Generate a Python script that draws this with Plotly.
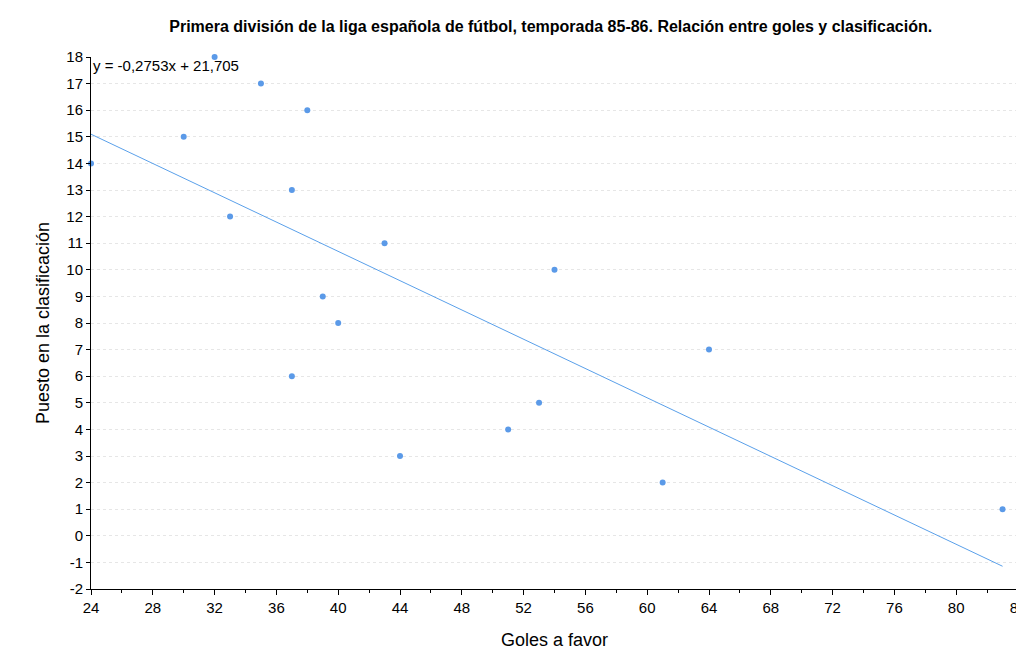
import plotly.graph_objects as go

# goles a favor y puesto en la clasificación
goles = [24, 30, 32, 33, 35, 37, 37, 38, 39, 40, 43, 44, 51, 53, 54, 61, 64, 83]
puesto = [14, 15, 18, 12, 17, 13, 6, 16, 9, 8, 11, 3, 4, 5, 10, 2, 7, 1]
y_ticks = list(range(-2, 19))

# regresión lineal
slope = -0.2753
intercept = 21.705
x_line = [min(goles), max(goles)]
y_line = [slope * x + intercept for x in x_line]

fig = go.Figure()
fig.add_trace(go.Scatter(x=x_line, y=y_line, mode="lines",
                         line=dict(color="#5aa0ea", width=1), hoverinfo="skip"))
fig.add_trace(go.Scatter(x=goles, y=puesto, mode="markers", cliponaxis=False,
                         marker=dict(color="#5b9ae8", size=6)))

fig.add_annotation(x=0, y=1, xref="paper", yref="paper", xanchor="left", yanchor="top",
                   text="y = -0,2753x + 21,705", showarrow=False,
                   font=dict(size=15, color="black"), yshift=2)

fig.update_layout(
    width=1024, height=651,
    margin=dict(l=83, r=14, t=49, b=70),
    plot_bgcolor="white", paper_bgcolor="white",
    showlegend=False,
    font=dict(family="Liberation Sans, Arial", size=15, color="black"),
    title=dict(text="<b>Primera división de la liga española de fútbol, temporada 85-86. Relación entre goles y clasificación.</b>",
               x=0.53, xanchor="center", y=0.972, yanchor="middle", font=dict(size=16)),
    xaxis=dict(title=dict(text="Goles a favor", standoff=18), range=[24, 84], tick0=24, dtick=4,
               automargin=False,
               showgrid=False, zeroline=False, showline=True, linecolor="black",
               ticks="outside", ticklen=5, tickcolor="black",
               minor=dict(ticks="outside", ticklen=3, dtick=2, tickcolor="black")),
    yaxis=dict(title=dict(text="Puesto en la clasificación", standoff=12), range=[-2, 18],
               tickvals=y_ticks, ticktext=[str(v) for v in y_ticks], automargin=False,
               showgrid=True, gridcolor="#e6e6e6", griddash="dot", zeroline=False,
               showline=True, linecolor="black", ticks="outside", ticklen=4, tickcolor="black"),
)

fig.write_html("out.html")
